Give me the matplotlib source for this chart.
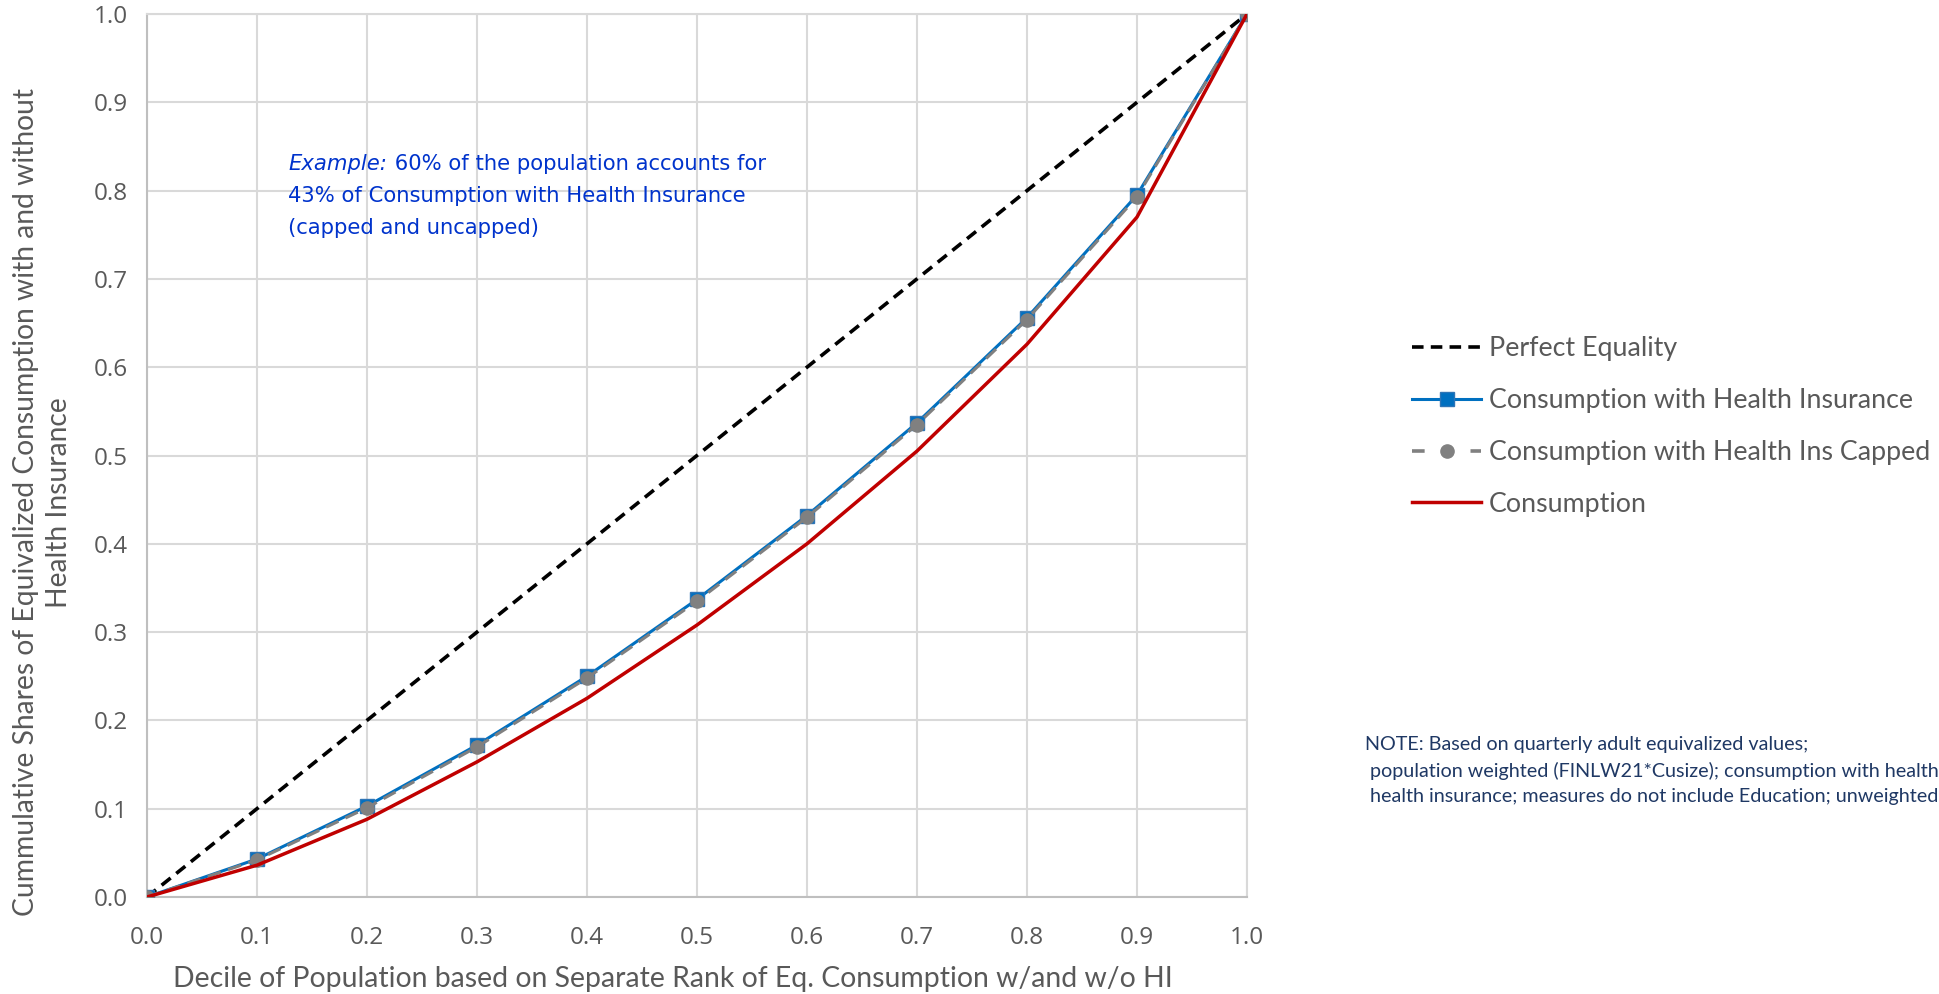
"""Lorenz curves: consumption with and without health insurance."""

import matplotlib

matplotlib.use("Agg")
import matplotlib.pyplot as plt
from matplotlib.lines import Line2D
from matplotlib.ticker import FormatStrFormatter, MultipleLocator

# Deciles of population
deciles = [0.0, 0.1, 0.2, 0.3, 0.4, 0.5, 0.6, 0.7, 0.8, 0.9, 1.0]

perfect_equality = [0.0, 0.1, 0.2, 0.3, 0.4, 0.5, 0.6, 0.7, 0.8, 0.9, 1.0]
cons_with_hi = [0.0, 0.043, 0.103, 0.172, 0.250, 0.337, 0.432, 0.537, 0.656, 0.795, 1.0]
cons_with_hi_capped = [0.0, 0.042, 0.101, 0.170, 0.248, 0.335, 0.430, 0.535, 0.654, 0.793, 1.0]
consumption = [0.0, 0.036, 0.088, 0.153, 0.225, 0.308, 0.400, 0.505, 0.626, 0.770, 1.0]

series_labels = [
    "Perfect Equality",
    "Consumption with Health Insurance",
    "Consumption with Health Ins Capped",
    "Consumption",
]

x_label = "Decile of Population based on Separate Rank of Eq. Consumption w/and w/o HI"
y_label = "Cummulative Shares of Equivalized Consumption with and without\nHealth Insurance"

example_lines = [
    " 60% of the population accounts for",
    "43% of Consumption with Health Insurance",
    "(capped and uncapped)",
]

note_lines = [
    "NOTE: Based on quarterly adult equivalized values;",
    " population weighted (FINLW21*Cusize); consumption with health insurance capped",
    " health insurance; measures do not include Education; unweighted N",
]

GREY_TXT = "#595959"
GRID = "#d9d9d9"

fig = plt.figure(figsize=(19.39, 9.94), dpi=100)
fig.patch.set_facecolor("white")
ax = fig.add_axes([0.0758, 0.0976, 0.5673, 0.8883])

l_eq, = ax.plot(deciles, perfect_equality, color="black", linewidth=2.6,
                dashes=(3.2, 2.0), label=series_labels[0], zorder=3)
l_hi, = ax.plot(deciles, cons_with_hi, color="#0070C0", linewidth=2.2,
                marker="s", markersize=10.5, markerfacecolor="#0070C0",
                markeredgecolor="#2e75b6", label=series_labels[1], zorder=4)
ax.plot(deciles, cons_with_hi_capped, color="#808080", linewidth=2.2,
        dashes=(4.5, 2.5), marker="o", markersize=9.5,
        markerfacecolor="#808080", markeredgecolor="#808080", zorder=5)
l_cons, = ax.plot(deciles, consumption, color="#C00000", linewidth=2.5,
                  label=series_labels[3], zorder=6)

# legend proxy so the capped handle reads "- o -" like the original
capped_handle = Line2D([], [], color="#808080", linewidth=2.6, dashes=(3.5, 4.6),
                       marker="o", markersize=9.5, markerfacecolor="#808080",
                       markeredgecolor="#808080")

ax.set_xlim(0, 1.0)
ax.set_ylim(0, 1.0)
ax.xaxis.set_major_locator(MultipleLocator(0.1))
ax.yaxis.set_major_locator(MultipleLocator(0.1))
ax.xaxis.set_major_formatter(FormatStrFormatter("%.1f"))
ax.yaxis.set_major_formatter(FormatStrFormatter("%.1f"))
ax.grid(True, color=GRID, linewidth=1.5)
ax.set_axisbelow(True)
for side in ["left", "bottom", "top", "right"]:
    ax.spines[side].set_color(GRID)
    ax.spines[side].set_linewidth(1.5)
ax.spines["left"].set_color("#bfbfbf")
ax.spines["bottom"].set_color("#bfbfbf")
ax.tick_params(length=0, labelsize=17.5, labelcolor=GREY_TXT)
ax.tick_params(axis="x", pad=21)
ax.tick_params(axis="y", pad=14)
for lbl in ax.get_xticklabels() + ax.get_yticklabels():
    lbl.set_fontfamily("Open Sans")

ax.set_xlabel(x_label, fontsize=20.4, color=GREY_TXT, family="Lato", va="top")
ax.xaxis.set_label_coords(0.478, -0.078)
ax.set_ylabel(y_label, fontsize=20.3, color=GREY_TXT, family="Lato",
              linespacing=1.34, va="center")
ax.yaxis.set_label_coords(-0.0947, 0.447)

leg = ax.legend([l_eq, l_hi, capped_handle, l_cons], series_labels,
                loc="upper left", bbox_to_anchor=(1.140, 0.647), frameon=False,
                prop={"family": "Lato", "size": 19.3}, handlelength=2.6,
                handletextpad=0.27, labelspacing=1.0, borderaxespad=0)
for txt in leg.get_texts():
    txt.set_color(GREY_TXT)

# Example annotation, italic lead word followed by regular text
ann_color = "#0033CC"
ann_font = "DejaVu Sans Condensed"
ann_size = 15.2
t1 = ax.text(0.129, 0.8235, "Example:", transform=ax.transAxes, fontsize=ann_size,
             style="italic", color=ann_color, family=ann_font, va="baseline")
ax.annotate(example_lines[0], xy=(1, 0), xycoords=t1,
            fontsize=ann_size, color=ann_color, family=ann_font, va="bottom")
ax.text(0.128, 0.787, example_lines[1], transform=ax.transAxes, fontsize=ann_size,
        color=ann_color, family=ann_font, va="baseline")
ax.text(0.128, 0.751, example_lines[2], transform=ax.transAxes, fontsize=ann_size,
        color=ann_color, family=ann_font, va="baseline")

fig.text(0.7040, 0.2600, "\n".join(note_lines), fontsize=14.2, color="#1F3864",
         family="Lato", va="top", linespacing=1.6)

fig.savefig("out.png", dpi=100, facecolor="white")
